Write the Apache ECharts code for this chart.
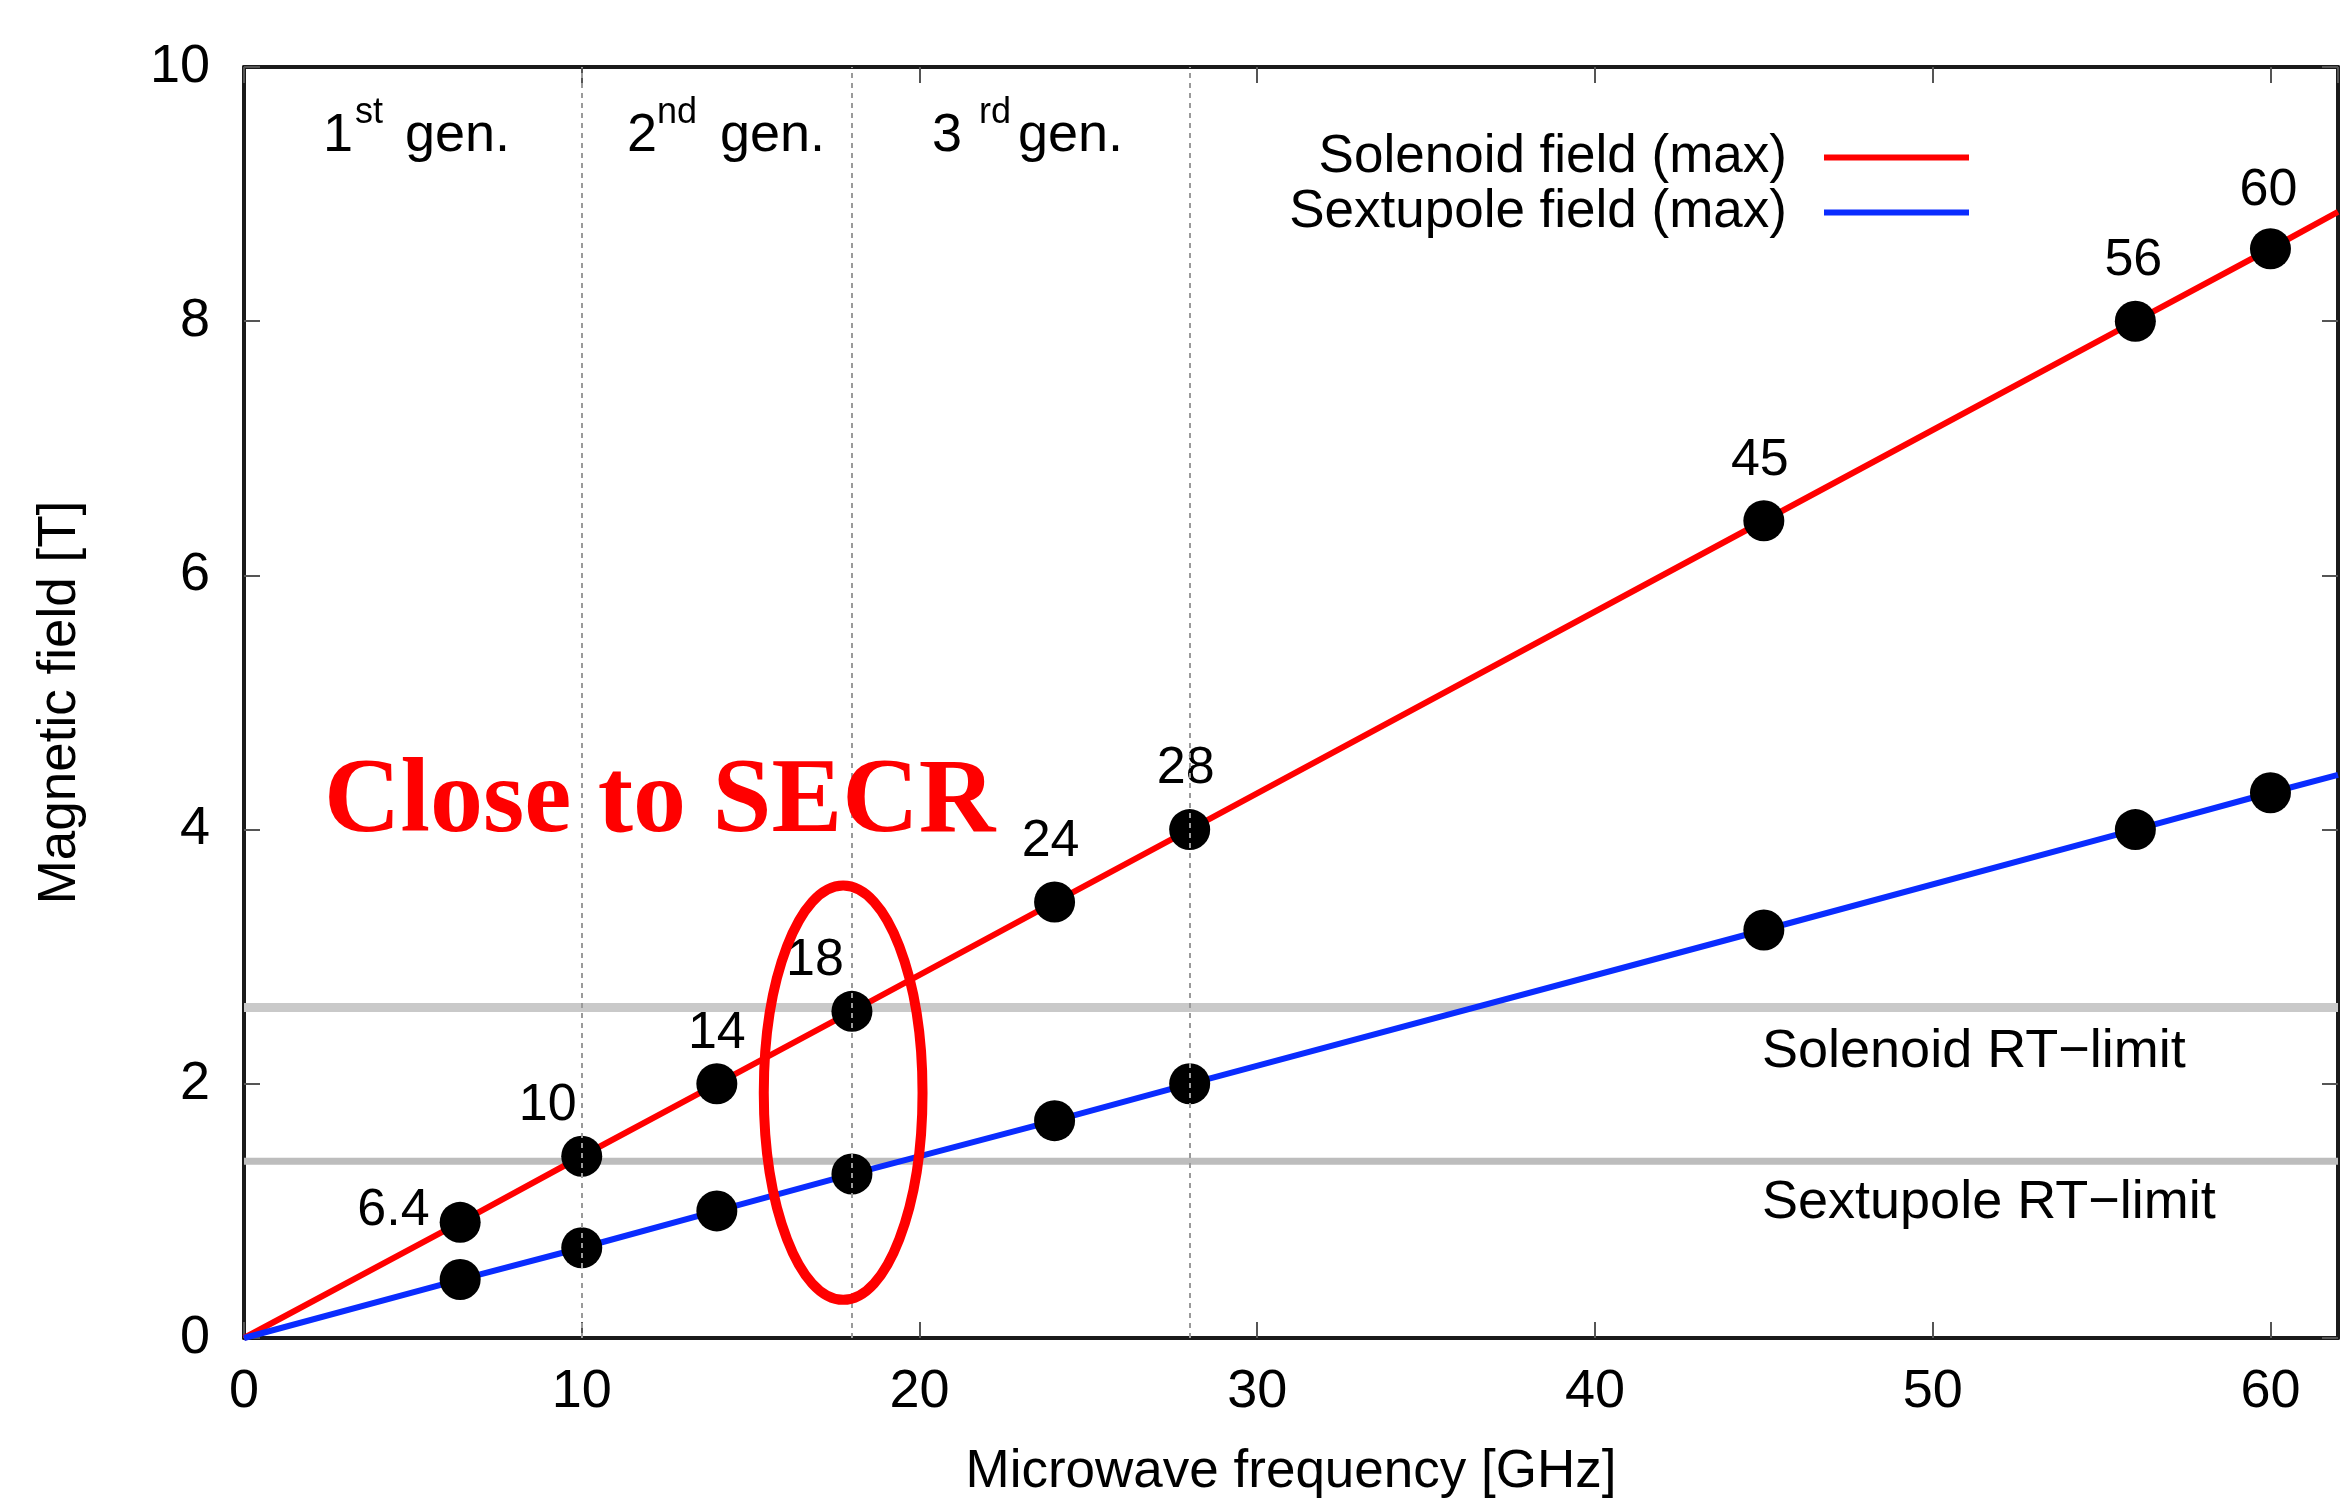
<!DOCTYPE html>
<html>
<head>
<meta charset="utf-8">
<script src="https://cdn.jsdelivr.net/npm/echarts@6/dist/echarts.min.js"></script>
<style>
  html, body { margin: 0; padding: 0; background: #fff; overflow: hidden; }
  #chart { width: 2344px; height: 1504px; }
</style>
</head>
<body>
<div id="chart"></div>
<script>
// ---- Data ----
const frequencies = [6.4, 10, 14, 18, 24, 28, 45, 56, 60];           // GHz
const freqLabels = ['6.4', '10', '14', '18', '24', '28', '45', '56', '60'];
const solenoidField = [0.91, 1.43, 2.0, 2.57, 3.43, 4.0, 6.43, 8.0, 8.57]; // T
const sextupoleField = [0.46, 0.71, 1.0, 1.29, 1.71, 2.0, 3.21, 4.0, 4.29]; // T
const lineEndsX = [0, 62];
const solenoidEnds = [0, 8.86];
const sextupoleEnds = [0, 4.43];
const solenoidRTLimit = 2.6;
const sextupoleRTLimit = 1.39;
const generationBounds = [10, 18, 28];
const xTicks = [0, 10, 20, 30, 40, 50, 60];
const yTicks = [0, 2, 4, 6, 8, 10];
const secrEllipse = [17.74, 1.93, 2.35, 1.63]; // centre x, centre y, radius x, radius y (data units)

// ---- Styles ----
const SANS = 'Liberation Sans, Arial, sans-serif';
const SERIF = 'Liberation Serif, Times New Roman, serif';
const RED = '#ff0000';
const BLUE = '#0a2cff';
const FS = 54;
const FS_LEG = 53;

// per-label placement tweaks (style only)
const labelTweaks = {
  0: { position: 'left', distance: 10, offset: [0, -12] },
  1: { offset: [-34, 0] },
  3: { offset: [-37, 0] },
  4: { offset: [-4, -10] },
  5: { offset: [-4, -10] },
  6: { offset: [-4, -10] },
  7: { offset: [-2, -10] },
  8: { offset: [-2, -8] }
};

function linePoints(ends, ys) {
  const pts = [[lineEndsX[0], ends[0]]];
  frequencies.forEach((f, i) => pts.push([f, ys[i]]));
  pts.push([lineEndsX[1], ends[1]]);
  return pts;
}

function txt(x, y, text, font, fill, z) {
  return {
    type: 'text', x: x, y: y, silent: true, z: z || 1,
    style: { text: text, font: font, fill: fill || '#000', align: 'left', verticalAlign: 'middle' }
  };
}

const chart = echarts.init(document.getElementById('chart'), null, { renderer: 'canvas' });

const axisLine = { show: true, onZero: false, lineStyle: { color: '#1a1a1a', width: 4 } };
const axisTick = { show: true, inside: true, length: 16, lineStyle: { color: '#555', width: 2 } };

const option = {
  backgroundColor: '#fff',
  animation: false,
  textStyle: { fontFamily: SANS },
  grid: { left: 244, right: 6, top: 67, bottom: 160, containLabel: false },
  legend: {
    orient: 'vertical',
    right: 375,
    top: 131,
    padding: 0,
    align: 'right',
    icon: 'rect',
    itemWidth: 145,
    itemHeight: 6,
    itemGap: 2,
    selectedMode: false,
    data: ['Solenoid field (max)', 'Sextupole field (max)'],
    textStyle: { fontSize: FS_LEG, color: '#000', fontFamily: SANS, lineHeight: 52, padding: [0, 32, 0, 0] }
  },
  xAxis: [
    {
      type: 'value', position: 'bottom', min: 0, max: 62, interval: 10,
      axisLine, axisTick,
      splitLine: { show: false },
      axisLabel: {
        fontSize: FS, color: '#000', margin: 27, fontFamily: SANS, showMaxLabel: false,
        formatter: v => (xTicks.indexOf(v) >= 0 ? String(v) : '')
      },
      name: 'Microwave frequency [GHz]', nameLocation: 'middle', nameGap: 108,
      nameTextStyle: { fontSize: FS_LEG, color: '#000', fontFamily: SANS }
    },
    {
      type: 'value', position: 'top', min: 0, max: 62, interval: 10,
      axisLine, axisTick, splitLine: { show: false }, axisLabel: { show: false }
    }
  ],
  yAxis: [
    {
      type: 'value', position: 'left', min: 0, max: 10, interval: 2,
      axisLine, axisTick, splitLine: { show: false },
      axisLabel: {
        fontSize: FS, color: '#000', margin: 34, fontFamily: SANS,
        formatter: v => (yTicks.indexOf(v) >= 0 ? String(v) : '')
      },
      name: 'Magnetic field [T]', nameLocation: 'middle', nameGap: 157, nameRotate: 90,
      nameTextStyle: { fontSize: FS_LEG, color: '#000', fontFamily: SANS }
    },
    {
      type: 'value', position: 'right', min: 0, max: 10, interval: 2,
      axisLine, axisTick, splitLine: { show: false }, axisLabel: { show: false }
    }
  ],
  series: [
    // generation boundaries
    {
      name: 'gens', type: 'line', data: [], silent: true, z: 1,
      markLine: {
        silent: true, symbol: ['none', 'none'], animation: false,
        label: { show: false },
        lineStyle: { color: '#9a9a9a', width: 2, type: [5, 5] },
        data: generationBounds.map(v => ({ xAxis: v }))
      }
    },
    // RT limits
    {
      name: 'Solenoid RT-limit', type: 'line', silent: true, z: 2, symbol: 'none',
      data: lineEndsX.map(x => [x, solenoidRTLimit]),
      lineStyle: { color: '#c9c9c9', width: 9 }
    },
    {
      name: 'Sextupole RT-limit', type: 'line', silent: true, z: 2, symbol: 'none',
      data: lineEndsX.map(x => [x, sextupoleRTLimit]),
      lineStyle: { color: '#bdbdbd', width: 7 }
    },
    // field lines
    {
      name: 'Solenoid field (max)', type: 'line', z: 3, symbol: 'none', showSymbol: false,
      data: linePoints(solenoidEnds, solenoidField),
      lineStyle: { color: RED, width: 6 }, itemStyle: { color: RED }
    },
    {
      name: 'Sextupole field (max)', type: 'line', z: 3, symbol: 'none', showSymbol: false,
      data: linePoints(sextupoleEnds, sextupoleField),
      lineStyle: { color: BLUE, width: 6 }, itemStyle: { color: BLUE }
    },
    // black points
    {
      name: 'solenoidPts', type: 'scatter', z: 4, symbolSize: 41,
      itemStyle: { color: '#000', opacity: 1 },
      label: {
        show: true, position: 'top', distance: 4, fontSize: 52, color: '#000', fontFamily: SANS,
        formatter: p => freqLabels[p.dataIndex]
      },
      data: frequencies.map((f, i) => {
        const item = { value: [f, solenoidField[i]] };
        if (labelTweaks[i]) item.label = labelTweaks[i];
        return item;
      })
    },
    {
      name: 'sextupolePts', type: 'scatter', z: 4, symbolSize: 41,
      itemStyle: { color: '#000', opacity: 1 },
      data: frequencies.map((f, i) => [f, sextupoleField[i]])
    },
    // ellipse around 18 GHz
    {
      name: 'secr', type: 'custom', z: 5, silent: true,
      data: [secrEllipse],
      encode: { x: 0, y: 1 },
      renderItem: function (params, api) {
        const c = api.coord([api.value(0), api.value(1)]);
        const s = api.size([api.value(2), api.value(3)]);
        return {
          type: 'ellipse',
          shape: { cx: c[0], cy: c[1], rx: s[0], ry: s[1] },
          style: { fill: 'none', stroke: RED, lineWidth: 10 }
        };
      }
    }
  ],
  graphic: [
    // generation labels
    txt(323, 136, '1', FS + 'px ' + SANS),
    txt(355, 113, 'st', '36px ' + SANS),
    txt(405, 136, 'gen.', FS + 'px ' + SANS),

    txt(627, 136, '2', FS + 'px ' + SANS),
    txt(657, 113, 'nd', '36px ' + SANS),
    txt(720, 136, 'gen.', FS + 'px ' + SANS),

    txt(932, 136, '3', FS + 'px ' + SANS),
    txt(979, 113, 'rd', '36px ' + SANS),
    txt(1018, 136, 'gen.', FS + 'px ' + SANS),

    // RT-limit labels
    txt(1762, 1052, 'Solenoid RT\u2212limit', FS + 'px ' + SANS),
    txt(1762, 1203, 'Sextupole RT\u2212limit', FS + 'px ' + SANS),

    // annotation
    txt(324, 804, 'Close to SECR', 'bold 106px ' + SERIF, RED, 10)
  ]
};

chart.setOption(option);
</script>
</body>
</html>
